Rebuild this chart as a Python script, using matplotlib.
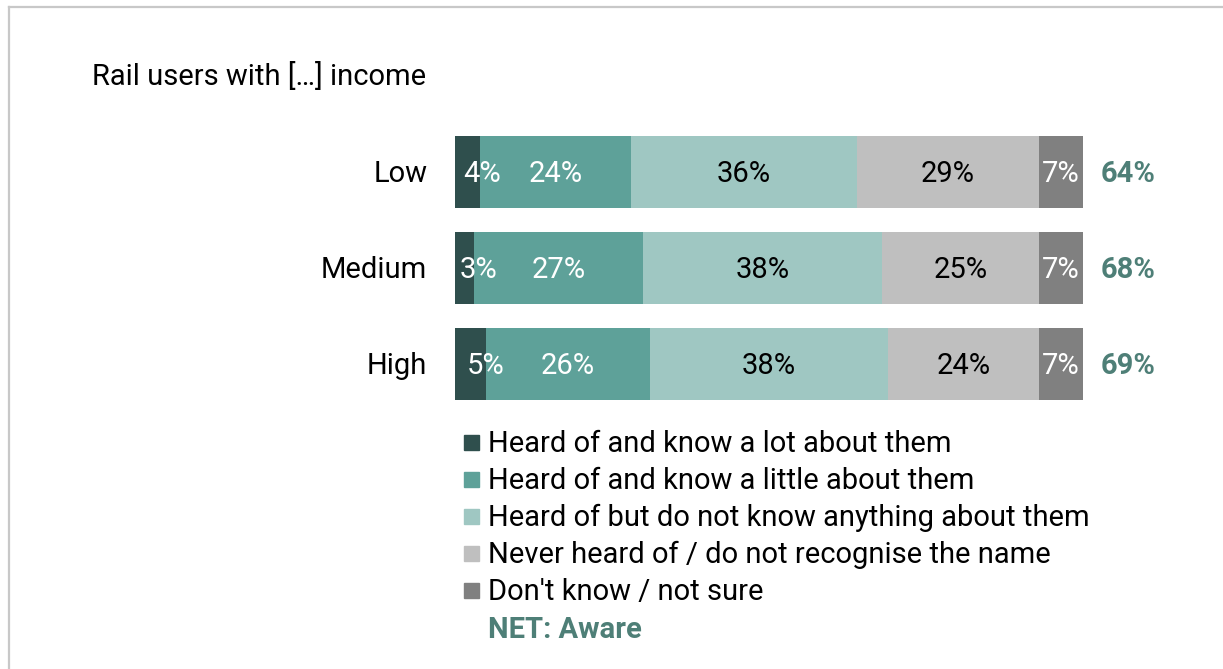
import matplotlib.pyplot as plt
from matplotlib.patches import Rectangle
from matplotlib.lines import Line2D

plt.rcParams['font.family'] = ['Roboto', 'DejaVu Sans']

# data
groups = ['Low', 'Medium', 'High']
lot = [4, 3, 5]
little = [24, 27, 26]
nothing = [36, 38, 38]
never = [29, 25, 24]
dont_know = [7, 7, 7]
net_aware = [64, 68, 69]

series_names = [
    'Heard of and know a lot about them',
    'Heard of and know a little about them',
    'Heard of but do not know anything about them',
    'Never heard of / do not recognise the name',
    "Don't know / not sure",
]
colors = ['#2f4f4d', '#5ea199', '#9fc7c2', '#bfbfbf', '#808080']
text_colors = ['white', 'white', 'black', 'black', 'white']
net_color = '#4e7f77'
FS = 21

W, H = 1223, 669
fig = plt.figure(figsize=(W / 100, H / 100), dpi=100)

# frame lines (top and left)
fig.add_artist(Line2D([9 / W, 1], [1 - 7 / H, 1 - 7 / H], color='#c8c8c8', lw=1.6))
fig.add_artist(Line2D([9 / W, 9 / W], [0, 1 - 7 / H], color='#c8c8c8', lw=1.6))

ax = fig.add_axes([455 / W, (H - 400) / H, 628 / W, 264 / H])
ax.set_xlim(0, 100)
ax.set_ylim(2.375, -0.375)
ax.axis('off')

series = [lot, little, nothing, never, dont_know]
ypos = list(range(len(groups)))
left = [0] * len(groups)
for k, vals in enumerate(series):
    ax.barh(ypos, vals, left=left, height=0.75, color=colors[k], edgecolor='none')
    for i, v in enumerate(vals):
        x = left[i] + v / 2
        if v < 6:
            x += 2.3
        ax.annotate(f'{v}%', xy=(x, ypos[i]), xytext=(0, -1.5), textcoords='offset points',
                    ha='center', va='center', color=text_colors[k], fontsize=FS)
    left = [l + v for l, v in zip(left, vals)]

for i, n in enumerate(net_aware):
    ax.annotate(f'{n}%', xy=(100, ypos[i]), xytext=(13, -1.5), textcoords='offset points',
                ha='left', va='center', color=net_color, fontsize=FS, fontweight='bold')
    ax.annotate(groups[i], xy=(0, ypos[i]), xytext=(-20, -1.5), textcoords='offset points',
                ha='right', va='center', color='black', fontsize=FS)

fig.text(92 / W, 1 - 76 / H, 'Rail users with […] income', ha='left', va='center',
         fontsize=FS, color='black')

# legend
row_y = [442, 479, 516, 553, 590]
for k, name in enumerate(series_names):
    y = row_y[k]
    fig.add_artist(Rectangle((464 / W, 1 - (y + 8) / H), 15 / W, 15 / H,
                             color=colors[k], transform=fig.transFigure))
    fig.text(488 / W, 1 - (y + 2) / H, name, ha='left', va='center', fontsize=FS, color='black')
fig.text(488 / W, 1 - 630 / H, 'NET: Aware', ha='left', va='center', fontsize=FS,
         fontweight='bold', color=net_color)

fig.savefig('out.png', dpi=100)
